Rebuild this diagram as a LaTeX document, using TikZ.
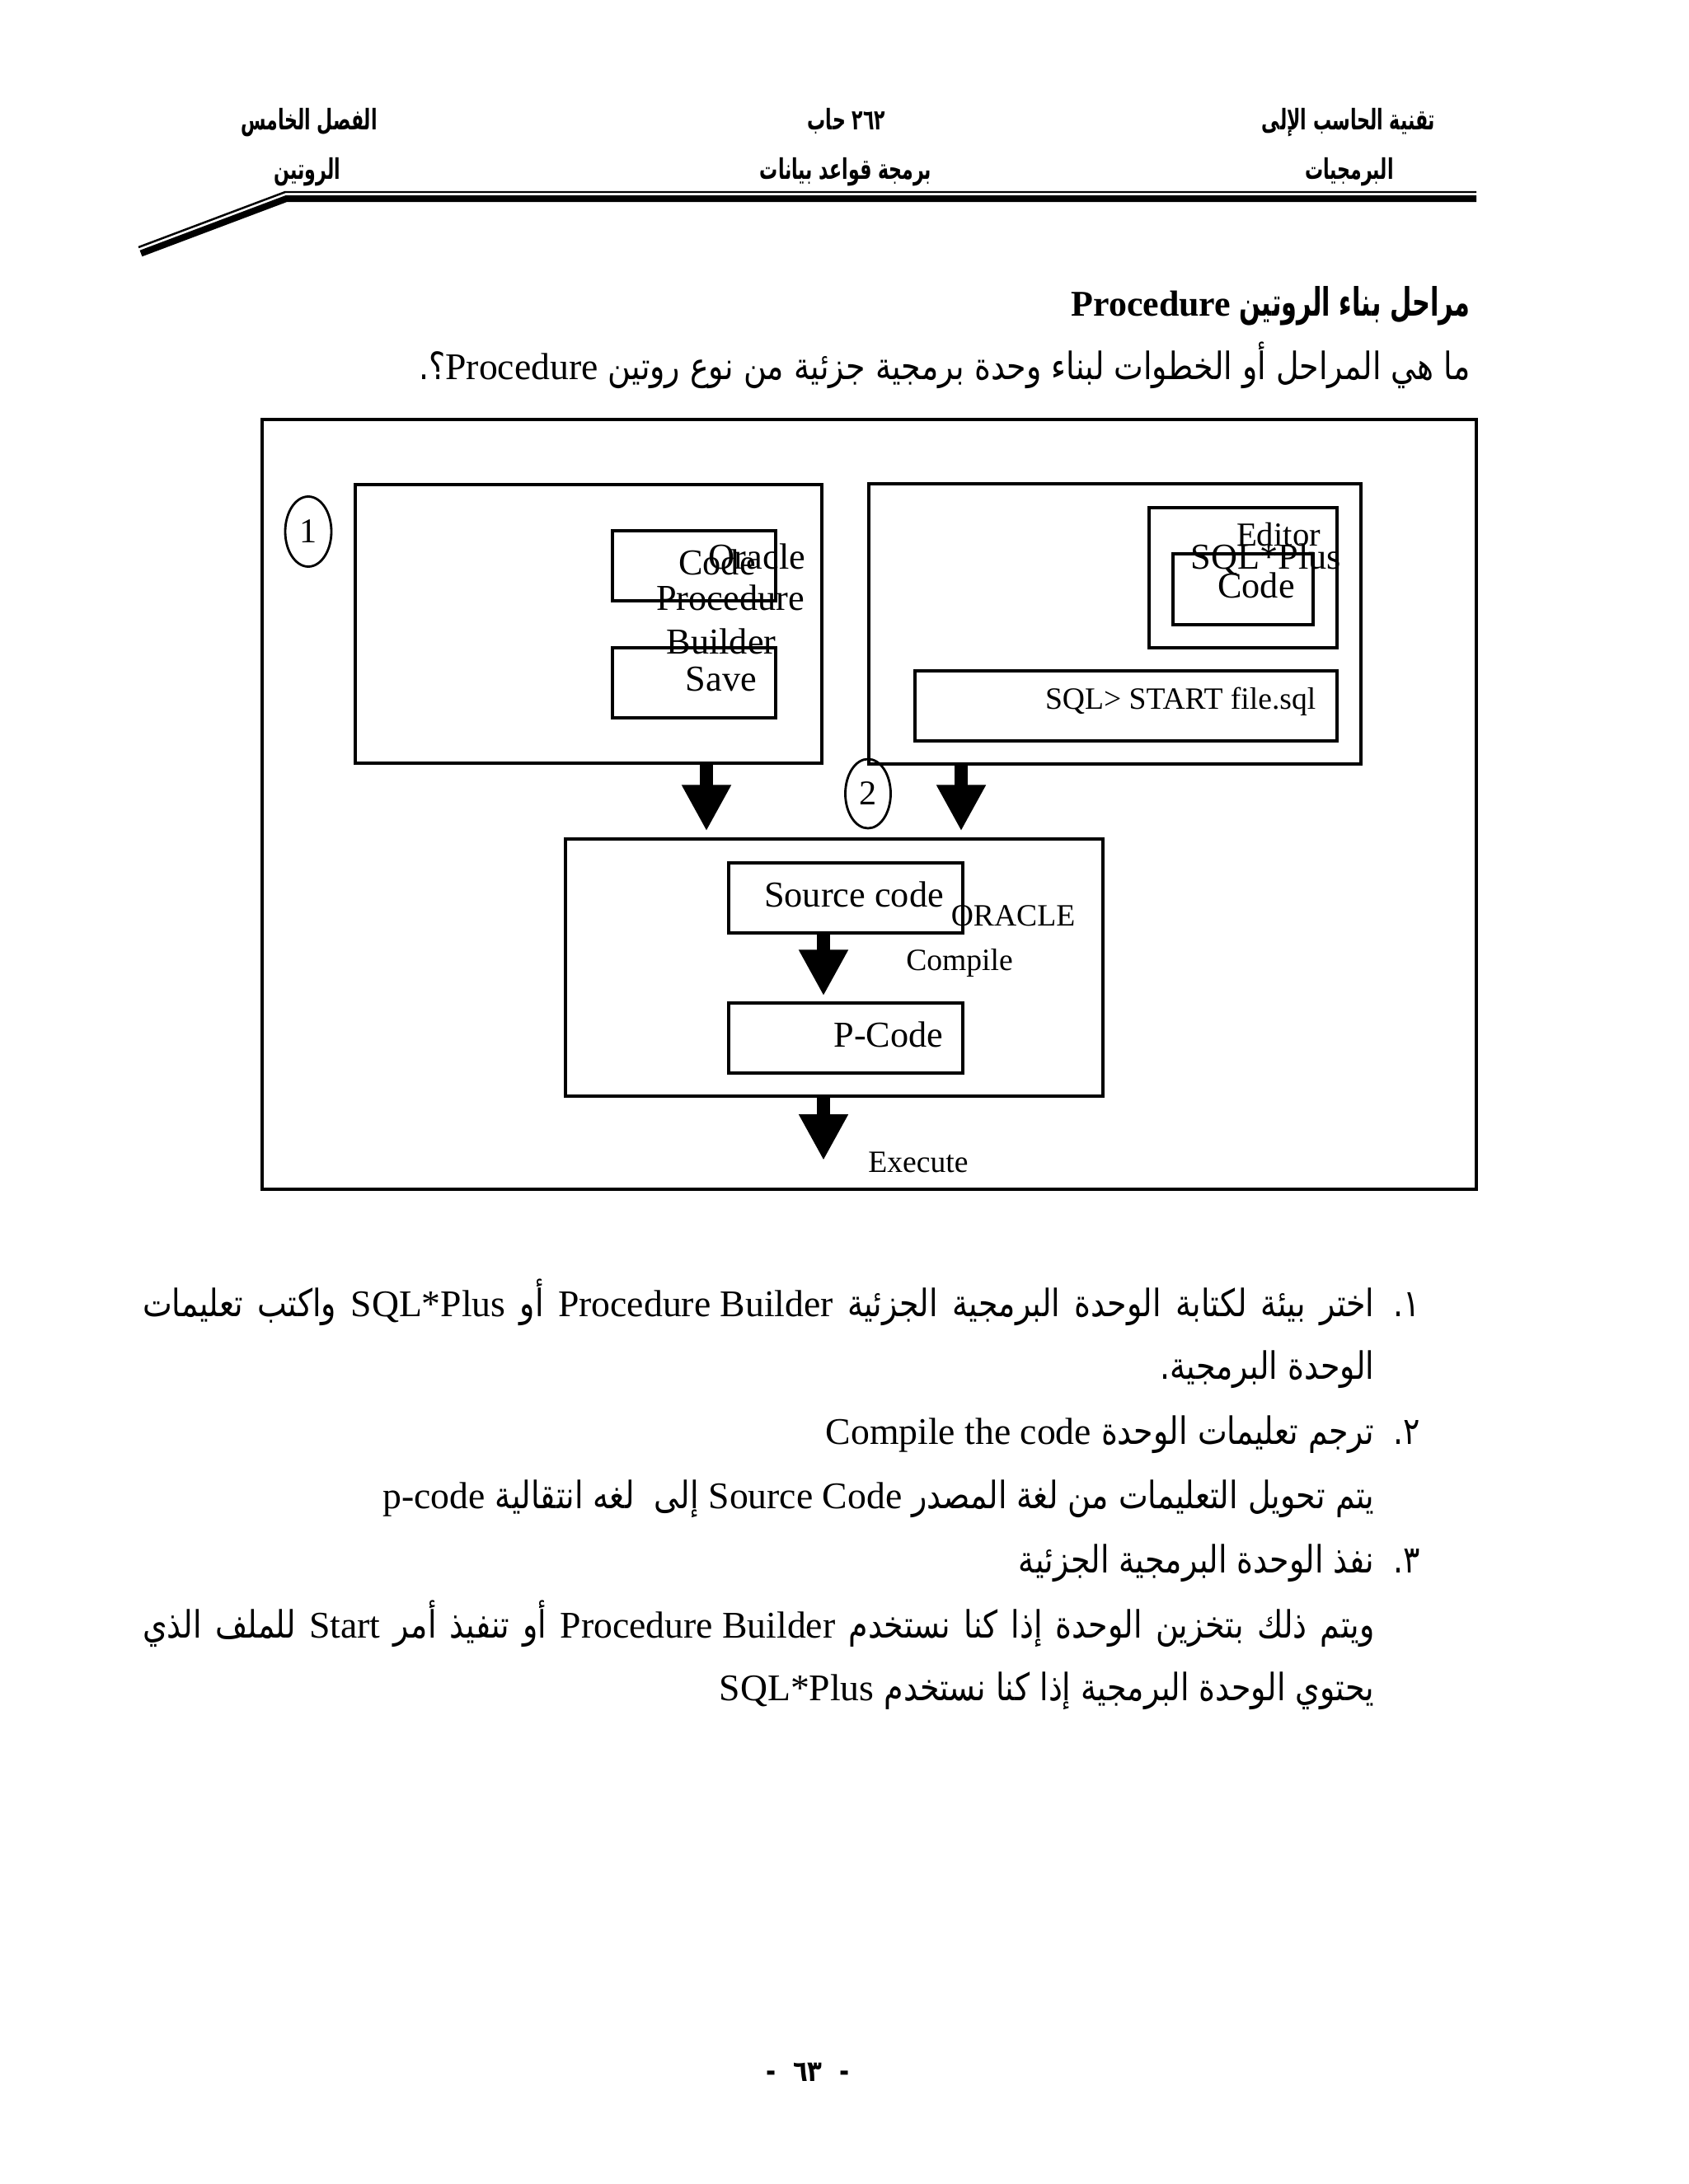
\documentclass[tikz,border=0pt]{standalone}
\usepackage{fontspec}
\setmainfont{Liberation Serif}
\newfontfamily\arabicfont[Script=Arabic,FakeStretch=0.83]{DejaVu Sans}
\newfontfamily\arabicnarrow[Script=Arabic,FakeStretch=0.64]{DejaVu Sans}
\TeXXeTstate=1
\usetikzlibrary{positioning,arrows.meta,calc,shapes.geometric}
\newcommand\latinrun[1]{{\rmfamily\spaceskip=\fontdimen2\font\relax\beginL #1\endL}}
\tikzset{
  outerbox/.style={draw, line width=0.9pt, inner sep=0pt},
  envbox/.style={outerbox},
  codebox/.style={outerbox},
  numcirc/.style={ellipse, draw, line width=0.8pt, inner sep=0pt,
                  minimum width=0.56cm, minimum height=0.85cm, font=\fontsize{12}{12}\selectfont},
  lbl/.style={inner sep=0pt, font=\fontsize{12.6}{14}\selectfont},
  lblsm/.style={inner sep=0pt, font=\fontsize{10.7}{12}\selectfont},
  bigarrow/.style={-{Triangle[width=0.56cm,length=0.56cm]}, line width=0.16cm},
  hdr/.style={inner sep=0pt, font=\arabicnarrow\bfseries\fontsize{9.8}{10}\selectfont},
  artext/.style={inner sep=0pt, font=\arabicfont\fontsize{13}{15}\selectfont},
  arhead/.style={inner sep=0pt, font=\arabicnarrow\bfseries\fontsize{13.5}{15}\selectfont}
}

\begin{document}
\begin{tikzpicture}
        \useasboundingbox (0,0) rectangle (20.48,-26.50);
        \draw[line width=0.025cm] (17.91,-2.33) -- (3.46,-2.33) -- (1.68,-3.00);
        \draw[line width=0.08cm] (17.91,-2.41) -- (3.475,-2.41) -- (1.71,-3.075);
        \node[hdr, anchor=base] (hchap) at (3.75,-1.57) {\beginR الفصل الخامس\endR};
        \node[hdr, anchor=base] (hcode) at (10.27,-1.57) {\beginR ٢٦٢ حاب\endR};
        \node[hdr, anchor=base] (hdept) at (16.36,-1.57) {\beginR تقنية الحاسب الإلى\endR};
        \node[hdr, anchor=base] (hunit) at (3.73,-2.18) {\beginR الروتين\endR};
        \node[hdr, anchor=base] (hcourse) at (10.26,-2.18) {\beginR برمجة قواعد بيانات\endR};
        \node[hdr, anchor=base] (hmajor) at (16.37,-2.18) {\beginR البرمجيات\endR};
        \node[arhead, anchor=base east] (title) at (17.84,-3.83)
          {\beginR مراحل بناء الروتين {\rmfamily\bfseries\fontsize{12.5}{15}\selectfont\beginL Procedure\endL}\endR};
        \node[artext, anchor=base east] (question) at (17.84,-4.60)
          {\beginR ما هي المراحل أو الخطوات لبناء وحدة برمجية جزئية من نوع روتين \latinrun{Procedure}؟.\endR};

        \node[outerbox, minimum width=14.73cm, minimum height=9.34cm] (frame) at (10.545,-9.76) {};
        \node[envbox, minimum width=5.66cm, minimum height=3.38cm] (proc) at (7.14,-7.57) {};
        \node[codebox, minimum width=1.98cm, minimum height=0.85cm] (pbcode) at (8.42,-6.865) {};
        \node[codebox, minimum width=1.98cm, minimum height=0.85cm] (pbsave) at (8.42,-8.285) {};
        \node[numcirc] (num1) at (3.74,-6.45) {1};
        \node[envbox, minimum width=5.97cm, minimum height=3.40cm] (sqlp) at (13.525,-7.57) {};
        \node[codebox, minimum width=2.28cm, minimum height=1.70cm] (editor) at (15.08,-7.01) {};
        \node[codebox, minimum width=1.70cm, minimum height=0.86cm] (sqlcode) at (15.08,-7.15) {};
        \node[codebox, minimum width=5.12cm, minimum height=0.85cm] (start) at (13.66,-8.565) {};
        \node[numcirc, minimum width=0.55cm, minimum height=0.84cm] (num2) at (10.53,-9.63) {2};
        \node[envbox, minimum width=6.52cm, minimum height=3.12cm] (oracle) at (10.12,-11.74) {};
        \node[codebox, minimum width=2.84cm, minimum height=0.85cm] (source) at (10.26,-10.895) {};
        \node[codebox, minimum width=2.84cm, minimum height=0.85cm] (pcode) at (10.26,-12.595) {};

        \node[lbl, anchor=base] (tcode) at (8.70,-6.97) {Code};
        \node[lbl, anchor=base] (toracle) at (9.18,-6.90) {Oracle};
        \node[lbl, anchor=base] (tproc) at (8.86,-7.40) {Procedure};
        \node[lbl, anchor=base] (tbuild) at (8.75,-7.93) {Builder};
        \node[lbl, anchor=base] (tsave) at (8.75,-8.38) {Save};
        \node[lbl, anchor=base, font=\fontsize{11.6}{13}\selectfont] (teditor) at (15.51,-6.62) {Editor};
        \node[lbl, anchor=base] (tplus) at (15.36,-6.90) {SQL*Plus};
        \node[lbl, anchor=base] (tcode2) at (15.24,-7.25) {Code};
        \node[lblsm, anchor=base east] (tstart) at (15.97,-8.60) {SQL> START file.sql};
        \node[lbl, anchor=base] (tsrc) at (10.36,-11.00) {Source code};
        \node[lblsm, anchor=base] (tora) at (12.29,-11.23) {ORACLE};
        \node[lblsm, anchor=base] (tcomp) at (11.64,-11.77) {Compile};
        \node[lbl, anchor=base] (tpc) at (10.78,-12.70) {P-Code};
        \node[lblsm, anchor=base] (texec) at (11.14,-14.22) {Execute};

        \coordinate (a1) at (8.57,0);
        \coordinate (a2) at (11.66,0);
        \coordinate (a3) at (9.99,0);
        \coordinate (run) at (9.99,-14.08);
        \draw[bigarrow, shorten >=0.08cm] (proc.south -| a1) -- (oracle.north -| a1);
        \draw[bigarrow, shorten >=0.08cm] (sqlp.south -| a2) -- (oracle.north -| a2);
        \draw[bigarrow, shorten >=0.07cm] (source.south -| a3) -- (pcode.north -| a3);
        \draw[bigarrow] (oracle.south -| a3) -- (run);

        \node[artext, anchor=base east] (m1) at (17.24,-15.97) {\beginR ١.\endR};
        \node[artext, anchor=base east] (l1) at (16.68,-15.97)
          {\hbox to 14.94cm{\beginR اختر بيئة لكتابة الوحدة البرمجية الجزئية \latinrun{Procedure Builder} أو \latinrun{SQL*Plus} واكتب تعليمات\endR}};
        \node[artext, anchor=base east] (l2) at (16.68,-16.73) {\beginR الوحدة البرمجية.\endR};
        \node[artext, anchor=base east] (m2) at (17.24,-17.52) {\beginR ٢.\endR};
        \node[artext, anchor=base east] (l3) at (16.68,-17.52)
          {\beginR ترجم تعليمات الوحدة \latinrun{Compile the code}\endR};
        \node[artext, anchor=base east] (l4) at (16.68,-18.30)
          {\beginR يتم تحويل التعليمات من لغة المصدر \latinrun{Source Code} إلى~ لغه انتقالية \latinrun{p-code}\endR};
        \node[artext, anchor=base east] (m3) at (17.24,-19.08) {\beginR ٣.\endR};
        \node[artext, anchor=base east] (l5) at (16.68,-19.08) {\beginR نفذ الوحدة البرمجية الجزئية\endR};
        \node[artext, anchor=base east] (l6) at (16.68,-19.87)
          {\hbox to 14.94cm{\beginR ويتم ذلك بتخزين الوحدة إذا كنا نستخدم \latinrun{Procedure Builder} أو تنفيذ أمر \latinrun{Start} للملف الذي\endR}};
        \node[artext, anchor=base east] (l7) at (16.68,-20.63)
          {\beginR يحتوي الوحدة البرمجية إذا كنا نستخدم \latinrun{SQL*Plus}\endR};

        \node[inner sep=0pt, anchor=base, font=\arabicfont\bfseries\fontsize{10}{10}\selectfont] (pagenum) at (9.80,-25.25) {-~~٦٣~~-};
      \end{tikzpicture}
\end{document}
